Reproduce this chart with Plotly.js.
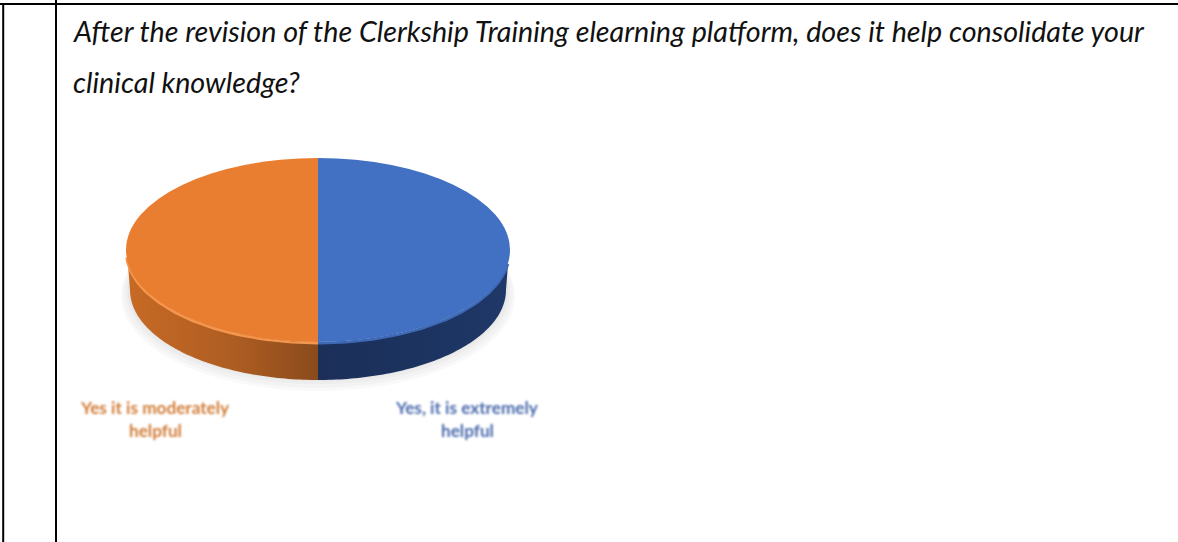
<!DOCTYPE html>
<html>
<head>
<meta charset="utf-8">
<script src="https://cdn.plot.ly/plotly-3.0.1.min.js"></script>
<style>
  html, body { margin: 0; padding: 0; background: #fff; }
  #chart { width: 1178px; height: 542px; }
</style>
</head>
<body>
<div id="chart"></div>
<script>
// Survey responses
const categories = ["Yes, it is extremely helpful", "Yes it is moderately helpful"];
const shares = [50, 50];
const sliceColors = ["#4270C2", "#E97D30"];
const labelLines = [["Yes, it is extremely", "helpful"], ["Yes it is moderately", "helpful"]];
const labelColors = ["#4a6bac", "#d27c36"];
const questionLines = [
  "After the revision of the Clerkship Training elearning platform, does it help consolidate your",
  "clinical knowledge?"
];

// Disc geometry in page pixels; the axes below map 1:1 onto the page
const W = 1178, H = 542;
const disc = { cx: 318, cy: 250, rx: 192, ry: 92 };
const base = { cx: 318, cy: 290, rx: 188, ry: 90 };

const wallGradients = [
  [[0, "#1b2f59"], [0.5, "#1c335f"], [1, "#1f3868"]],
  [[0, "#c76a25"], [0.55, "#ae5d22"], [1, "#8a4b1c"]]
];
const rimColors = ["#3d69b6", "#f6964c"];
const edgeTrim = 0.14;

function arc(e, from, to, n, dy) {
  const xs = [], ys = [];
  for (let i = 0; i <= n; i++) {
    const t = from + (to - from) * i / n;
    xs.push(e.cx + e.rx * Math.sin(t));
    ys.push(e.cy + (dy || 0) - e.ry * Math.cos(t));
  }
  return { xs, ys };
}

const total = shares.reduce((a, b) => a + b, 0);
const traces = [];

// Soft cast shadow under the disc
[[9, 10], [7, 8], [4, 6], [2, 4]].forEach(([grow, drop]) => {
  const e = { cx: base.cx, cy: base.cy + drop - 4, rx: base.rx + grow, ry: base.ry + grow * 0.55 };
  const a = arc(e, 0, 2 * Math.PI, 120);
  traces.push({ type: "scatter", mode: "none", x: a.xs, y: a.ys, fill: "toself",
    fillcolor: "rgba(60,60,60,0.03)", hoverinfo: "skip", showlegend: false });
});

// Side wall of each slice, limited to the front half of the disc.
// The outer ends stop just short of the widest point so the wall tucks under the bevel.
let start = 0;
shares.forEach((v, i) => {
  const end = start + v / total * 2 * Math.PI;
  const from = Math.max(start, Math.PI / 2), to = Math.min(end, 3 * Math.PI / 2);
  if (to > from) {
    const topFrom = from === Math.PI / 2 ? from + edgeTrim : from;
    const topTo = to === 3 * Math.PI / 2 ? to - edgeTrim : to;
    const top = arc(disc, topFrom, topTo, 80);
    const bot = arc(base, to, from, 80);
    traces.push({ type: "scatter", mode: "none",
      x: top.xs.concat(bot.xs), y: top.ys.concat(bot.ys),
      fill: "toself",
      fillgradient: { type: "horizontal", colorscale: wallGradients[i] },
      hoverinfo: "skip", showlegend: false });
    const rim = arc(disc, topFrom, to === 3 * Math.PI / 2 ? to - edgeTrim / 2 : to, 80, 1.2);
    traces.push({ type: "scatter", mode: "lines", x: rim.xs, y: rim.ys,
      line: { color: rimColors[i], width: 2.4 }, hoverinfo: "skip", showlegend: false });
  }
  start = end;
});

// Top face of the disc
traces.push({
  type: "pie",
  labels: categories,
  values: shares,
  sort: false,
  direction: "clockwise",
  rotation: 0,
  textinfo: "none",
  showlegend: false,
  marker: { colors: sliceColors, line: { width: 0 } },
  domain: {
    x: [(disc.cx - disc.rx) / W, (disc.cx + disc.rx) / W],
    y: [1 - (disc.cy + disc.rx) / H, 1 - (disc.cy - disc.rx) / H]
  }
});

const annotations = [];
const questionFont = { family: "Lato, sans-serif", size: 28.7, color: "#111" };
[31, 82].forEach((y, i) => annotations.push({
  xref: "x", yref: "y", x: 71, y, xanchor: "left", yanchor: "middle",
  showarrow: false, text: "<i>" + questionLines[i] + "</i>", font: questionFont
}));
const labelX = [467, 155];
labelLines.forEach((lines, i) => lines.forEach((t, j) => annotations.push({
  xref: "x", yref: "y", x: labelX[i], y: 407 + j * 23, xanchor: "center", yanchor: "middle",
  showarrow: false, text: "<b>" + t + "</b>",
  font: { family: "Lato, sans-serif", size: 17.2, color: labelColors[i] }
})));

const rule = (x0, y0, x1, y1) => ({
  type: "line", xref: "x", yref: "y", x0, y0, x1, y1,
  line: { color: "#000", width: 2 }
});

const layout = {
  width: W, height: H,
  margin: { l: 0, r: 0, t: 0, b: 0 },
  paper_bgcolor: "#fff", plot_bgcolor: "#fff",
  showlegend: false,
  xaxis: { visible: false, range: [0, W], fixedrange: true },
  yaxis: { visible: false, range: [H, 0], fixedrange: true },
  shapes: [rule(0, 4, W, 4), rule(3.2, 4, 3.2, H), rule(56, 0, 56, H)],
  annotations
};

const gd = document.getElementById("chart");

// Flatten the round pie into the perspective ellipse and soften the chart text
function finish() {
  const k = disc.ry / disc.rx;
  const pie = gd.querySelector(".pielayer");
  if (pie) {
    pie.setAttribute("transform",
      `translate(0 ${disc.cy}) scale(1 ${k}) translate(0 ${-disc.cy})`);
  }
  gd.querySelectorAll(".annotation").forEach((el, i) => {
    if (i >= questionLines.length) el.style.filter = "blur(0.9px)";
  });
}

Plotly.newPlot(gd, traces, layout, { staticPlot: true, responsive: false }).then(finish);
</script>
</body>
</html>
